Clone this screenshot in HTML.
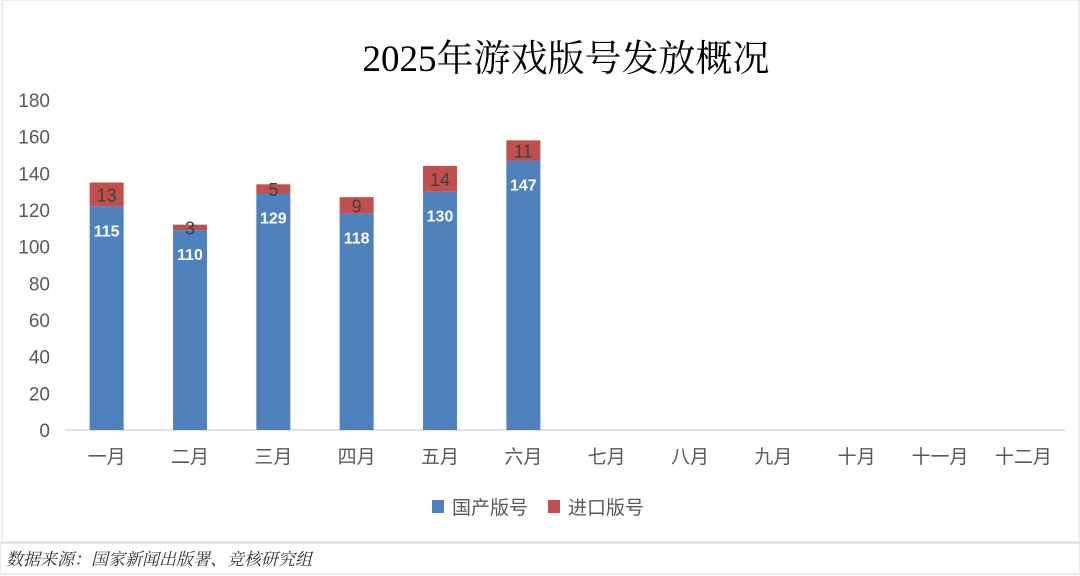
<!DOCTYPE html>
<html><head><meta charset="utf-8"><style>
body{margin:0;background:#fff;width:1080px;height:576px;overflow:hidden}
svg{display:block}
text{font-family:"Liberation Sans","Noto Sans CJK SC",sans-serif}
</style></head><body>
<svg id="chart" width="1080" height="576">
<rect x="2" y="0" width="1077" height="542" fill="#fff" stroke="#d9d9d9"/>
<text x="566" y="71" text-anchor="middle" font-size="37" fill="#000" style="font-family:'Liberation Serif','Noto Serif CJK SC',serif">2025年游戏版号发放概况</text>
<line x1="65" y1="430" x2="1065" y2="430" stroke="#d9d9d9" stroke-width="1.5"/>
<g id="yt"></g><g id="bars"></g><g id="xt"></g>
<rect x="432" y="500" width="12" height="13" fill="#4f81bd"/>
<text x="452" y="514" font-size="19" fill="#595959">国产版号</text>
<rect x="548" y="500" width="12" height="13" fill="#c0504d"/>
<text x="568" y="514" font-size="19" fill="#595959">进口版号</text>
<rect x="0" y="543" width="1080" height="31" fill="#fff" stroke="#d9d9d9"/>
<text x="6" y="565" font-size="17" fill="#333" style="font-family:'Liberation Serif','Noto Serif CJK SC',serif;font-style:italic">数据来源：国家新闻出版署、竞核研究组</text>
</svg>
<script>
const categories=["一月","二月","三月","四月","五月","六月","七月","八月","九月","十月","十一月","十二月"];
const domestic=[122,109,129,118,130,147];
const domesticLabels=["115","110","129","118","130","147"];
const imports=[13,3,5,9,14,11];
const yTicks=[0,20,40,60,80,100,120,140,160,180];
const NS="http://www.w3.org/2000/svg";
const y=v=>430-v*(330/180);
const bw=1000/categories.length;
const xc=i=>65+bw*(i+0.5);
function mk(tag,attrs,parent,txt){const e=document.createElementNS(NS,tag);for(const k in attrs)e.setAttribute(k,attrs[k]);if(txt!==undefined)e.textContent=txt;document.getElementById(parent).appendChild(e);return e;}
yTicks.forEach(t=>{const e=mk("text",{x:50,y:y(t)+7,"text-anchor":"end","font-size":19,fill:"#595959"},"yt",t);

});
categories.forEach((c,i)=>{const e=mk("text",{x:xc(i),y:463,"text-anchor":"middle","font-size":19,fill:"#595959"},"xt",c);

});
domestic.forEach((d,i)=>{const cx=xc(i);
const b=mk("rect",{x:cx-17,y:y(d),width:34,height:430-y(d),fill:"#4f81bd"},"bars");


const r=mk("rect",{x:cx-17,y:y(d+imports[i]),width:34,height:y(d)-y(d+imports[i]),fill:"#c0504d"},"bars");


const l=mk("text",{x:cx,y:y(d)+30,"text-anchor":"middle","font-size":16,"font-weight":"bold",fill:"#fff"},"bars",domesticLabels[i]);


const l2=mk("text",{x:cx,y:(y(d)+y(d+imports[i]))/2+7,"text-anchor":"middle","font-size":18,fill:"#404040"},"bars",imports[i]);

});
</script>
</body></html>
